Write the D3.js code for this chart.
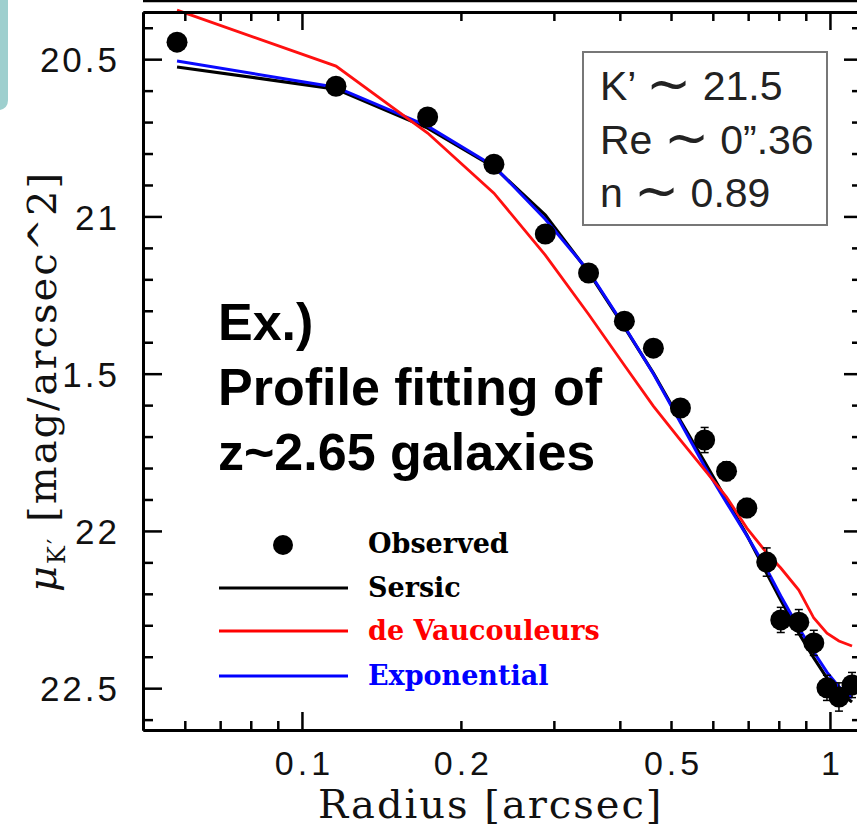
<!DOCTYPE html>
<html>
<head>
<meta charset="utf-8">
<script src="https://cdn.jsdelivr.net/npm/d3@7"></script>
<style>
  html, body { margin: 0; padding: 0; background: #fff; }
  svg { display: block; }
</style>
</head>
<body>
<svg id="chart" width="857" height="829"></svg>
<script>
// ---- data ----
const radius = [0.058, 0.116, 0.173, 0.231, 0.289, 0.349, 0.408, 0.463, 0.521, 0.579, 0.637, 0.696, 0.759, 0.807, 0.873, 0.932, 0.987, 1.040, 1.101];
const observed = [20.446, 20.586, 20.684, 20.834, 21.056, 21.180, 21.333, 21.419, 21.609, 21.711, 21.810, 21.927, 22.099, 22.283, 22.290, 22.356, 22.499, 22.528, 22.490];
const obsError = [0.01, 0.01, 0.01, 0.01, 0.01, 0.01, 0.01, 0.01, 0.02, 0.04, 0.03, 0.03, 0.045, 0.04, 0.04, 0.04, 0.04, 0.045, 0.04];
const sersic = [20.525, 20.595, 20.719, 20.843, 20.996, 21.177, 21.352, 21.498, 21.650, 21.781, 21.902, 22.013, 22.135, 22.220, 22.325, 22.404, 22.468, 22.512, 22.544];
const exponential = [20.506, 20.589, 20.713, 20.840, 21.009, 21.174, 21.349, 21.500, 21.655, 21.795, 21.910, 22.015, 22.122, 22.207, 22.309, 22.385, 22.449, 22.496, 22.531];
const deVaucouleurs = [20.344, 20.522, 20.735, 20.926, 21.123, 21.311, 21.473, 21.603, 21.711, 21.806, 21.892, 21.991, 22.070, 22.118, 22.188, 22.277, 22.325, 22.350, 22.366];

const xMajorTicks = [0.1, 1];
const xMinorTicks = [0.06, 0.07, 0.08, 0.09, 0.2, 0.3, 0.4, 0.5, 0.6, 0.7, 0.8, 0.9];
const xLabelTicks = [0.1, 0.2, 0.5, 1];
const xLabels = ["0.1", "0.2", "0.5", "1"];
const yMajorTicks = [20.5, 21, 21.5, 22, 22.5];
const yLabels = ["20.5", "21", "21.5", "22", "22.5"];
const yMinorTicks = [20.4, 20.6, 20.7, 20.8, 20.9, 21.1, 21.2, 21.3, 21.4, 21.6, 21.7, 21.8, 21.9, 22.1, 22.2, 22.3, 22.4, 22.6];

const legendNames = ["Observed", "Sersic", "de Vaucouleurs", "Exponential"];
const legendColors = ["#000000", "#000000", "#ff0000", "#0000ff"];
const infoParts = [["K\u2019 ", "21.5"], ["Re ", "0\u201D.36"], ["n ", "0.89"]];
const noteLines = ["Ex.)", "Profile fitting of", "z~2.65 galaxies"];

// ---- layout ----
const svg = d3.select("#chart");
const L = 143, R = 862, T = 12, B = 730;
const x = d3.scaleLog().domain([0.05, 1.15]).range([L, R]);
const y = d3.scaleLinear().domain([20.35, 22.633]).range([T, B]);

// decorative teal bar at left and top rule
svg.append("path")
  .attr("d", "M0,0 H8 V100 Q8,108 0,110 Z")
  .attr("fill", "#9ecfce");
svg.append("line").attr("x1", L).attr("x2", 857).attr("y1", 1).attr("y2", 1)
  .attr("stroke", "#000").attr("stroke-width", 2.5);

// ---- curves ----
const clipId = "plotclip";
svg.append("clipPath").attr("id", clipId).append("rect")
  .attr("x", L).attr("y", 0).attr("width", R - L).attr("height", B);

const line = vals => d3.line().x((d, i) => x(radius[i])).y(d => y(d))(vals);
const curves = svg.append("g").attr("clip-path", `url(#${clipId})`);
curves.append("path").attr("d", line(sersic)).attr("fill", "none").attr("stroke", "#000").attr("stroke-width", 3.2);
curves.append("path").attr("d", line(exponential)).attr("fill", "none").attr("stroke", "#0a0aff").attr("stroke-width", 3);
curves.append("path").attr("d", line(deVaucouleurs)).attr("fill", "none").attr("stroke", "#ff1010").attr("stroke-width", 2.8);

// ---- observed points + error bars ----
const pts = svg.append("g");
radius.forEach((r, i) => {
  const cx = x(r), y1 = y(observed[i] - obsError[i]), y2 = y(observed[i] + obsError[i]);
  pts.append("line").attr("x1", cx).attr("x2", cx).attr("y1", y1).attr("y2", y2).attr("stroke", "#000").attr("stroke-width", 1.5);
  pts.append("line").attr("x1", cx - 4).attr("x2", cx + 4).attr("y1", y1).attr("y2", y1).attr("stroke", "#000").attr("stroke-width", 1.5);
  pts.append("line").attr("x1", cx - 4).attr("x2", cx + 4).attr("y1", y2).attr("y2", y2).attr("stroke", "#000").attr("stroke-width", 1.5);
  pts.append("circle").attr("cx", cx).attr("cy", y(observed[i])).attr("r", 10.5).attr("fill", "#000");
});

// ---- axes ----
const axStyle = g => {
  g.selectAll(".domain").attr("stroke", "#000").attr("stroke-width", 3);
  g.selectAll(".tick line").attr("stroke", "#000").attr("stroke-width", 2.5);
};
// left
svg.append("g").attr("transform", `translate(${L},0)`)
  .call(d3.axisLeft(y).tickValues(yMinorTicks).tickSize(-10).tickFormat("").tickSizeOuter(0)).call(axStyle);
const yAxisG = svg.append("g").attr("transform", `translate(${L},0)`)
  .call(d3.axisLeft(y).tickValues(yMajorTicks).tickSize(-19).tickPadding(23)
    .tickFormat((d, i) => yLabels[i]).tickSizeOuter(0)).call(axStyle);
yAxisG.selectAll(".tick text").attr("font-family", "Liberation Sans, Arial, sans-serif")
  .attr("font-size", 35).attr("letter-spacing", 3).attr("fill", "#111").attr("dy", "0.36em");
// right
svg.append("g").attr("transform", `translate(${R},0)`)
  .call(d3.axisRight(y).tickValues(yMinorTicks).tickSize(-10).tickFormat("").tickSizeOuter(0)).call(axStyle);
svg.append("g").attr("transform", `translate(${R},0)`)
  .call(d3.axisRight(y).tickValues(yMajorTicks).tickSize(-18).tickFormat("").tickSizeOuter(0)).call(axStyle);
// bottom
svg.append("g").attr("transform", `translate(0,${B})`)
  .call(d3.axisBottom(x).tickValues(xMinorTicks).tickSize(-9).tickFormat("").tickSizeOuter(0)).call(axStyle);
svg.append("g").attr("transform", `translate(0,${B})`)
  .call(d3.axisBottom(x).tickValues(xMajorTicks).tickSize(-18).tickFormat("").tickSizeOuter(0)).call(axStyle);
const xLab = svg.append("g").attr("transform", `translate(0,${B})`)
  .call(d3.axisBottom(x).tickValues(xLabelTicks).tickSize(0).tickPadding(21).tickFormat((d, i) => xLabels[i]));
xLab.select(".domain").remove();
xLab.selectAll(".tick text").attr("font-family", "Liberation Sans, Arial, sans-serif")
  .attr("font-size", 34).attr("letter-spacing", 4).attr("fill", "#111").attr("dx", 2);
// top
svg.append("g").attr("transform", `translate(0,${T})`)
  .call(d3.axisTop(x).tickValues(xMinorTicks).tickSize(-9).tickFormat("").tickSizeOuter(0)).call(axStyle);
svg.append("g").attr("transform", `translate(0,${T})`)
  .call(d3.axisTop(x).tickValues(xMajorTicks).tickSize(-18).tickFormat("").tickSizeOuter(0)).call(axStyle);

// ---- axis titles ----
svg.append("text").attr("x", 318).attr("y", 818)
  .attr("font-family", "DejaVu Serif, serif").attr("font-size", 40).attr("letter-spacing", 2).attr("fill", "#111")
  .text("Radius [arcsec]");

const yt = svg.append("g").attr("transform", "translate(56,592) rotate(-90)");
const ytRect = yt.append("rect").attr("fill", "#fff");
const ytText = yt.append("text").attr("x", 0).attr("y", 0)
  .attr("font-family", "DejaVu Serif, serif").attr("font-size", 40).attr("letter-spacing", 2).attr("fill", "#111");
ytText.append("tspan").attr("font-style", "italic").text("\u03BC");
ytText.append("tspan").attr("font-size", 24).attr("dy", 9).text("K\u2032");
ytText.append("tspan").attr("dy", -9).text(" [mag/arcsec^2]");
const bb = ytText.node().getBBox();
ytRect.attr("x", bb.x).attr("y", bb.y).attr("width", bb.width).attr("height", 6 - bb.y);

// ---- info box ----
svg.append("rect").attr("x", 583).attr("y", 52).attr("width", 244).attr("height", 173)
  .attr("fill", "#fff").attr("stroke", "#777").attr("stroke-width", 2);
infoParts.forEach((p, i) => {
  const t = svg.append("text").attr("x", 600).attr("y", 100 + i * 53.5)
    .attr("font-family", "Liberation Sans, Arial, sans-serif").attr("font-size", 41).attr("fill", "#222");
  t.append("tspan").text(p[0]);
  t.append("tspan").attr("font-size", 54).attr("dy", 2).text("\u223C");
  t.append("tspan").attr("dy", -2).text(" " + p[1]);
});

// ---- annotation ----
noteLines.forEach((t, i) => {
  svg.append("text").attr("x", 218).attr("y", 340 + i * 65)
    .attr("font-family", "Liberation Sans, Arial, sans-serif").attr("font-weight", "bold")
    .attr("font-size", 52).attr("fill", "#000").text(t);
});

// ---- legend ----
const lg = svg.append("g");
const legendY = [553, 597, 640, 685];
lg.append("circle").attr("cx", 283).attr("cy", 545).attr("r", 10).attr("fill", "#000");
[1, 2, 3].forEach(i => {
  lg.append("line").attr("x1", 219).attr("x2", 348).attr("y1", legendY[i] - 9).attr("y2", legendY[i] - 9)
    .attr("stroke", legendColors[i]).attr("stroke-width", 3);
});
legendNames.forEach((n, i) => {
  lg.append("text").attr("x", 368).attr("y", legendY[i])
    .attr("font-family", "DejaVu Serif, serif").attr("font-weight", "bold")
    .attr("font-size", 27).attr("fill", legendColors[i]).text(n);
});
</script>
</body>
</html>
